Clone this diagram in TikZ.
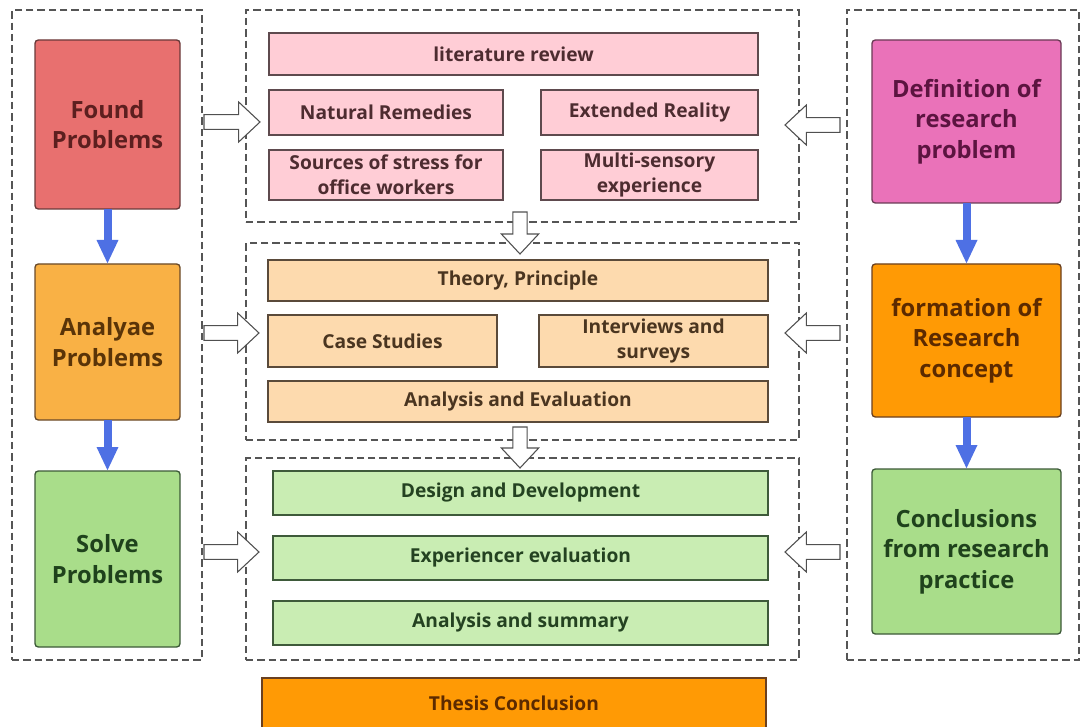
\documentclass[tikz,border=0pt]{standalone}
\usepackage{fontspec}
\setmainfont{Open Sans}
\usetikzlibrary{calc,arrows.meta}

\definecolor{foundfill}{HTML}{E8706F}
\definecolor{foundtext}{HTML}{5C1F1F}
\definecolor{foundline}{HTML}{6A3A3A}
\definecolor{analyfill}{HTML}{F9B145}
\definecolor{analytext}{HTML}{5A3408}
\definecolor{analyline}{HTML}{6A4A2A}
\definecolor{solvefill}{HTML}{A9DD8A}
\definecolor{solvetext}{HTML}{1F421C}
\definecolor{solveline}{HTML}{3C5A38}
\definecolor{deffill}{HTML}{EA72B9}
\definecolor{deftext}{HTML}{5C1440}
\definecolor{defline}{HTML}{6A3A55}
\definecolor{formfill}{HTML}{FF9A05}
\definecolor{formtext}{HTML}{5C2A00}
\definecolor{formline}{HTML}{6A4020}
\definecolor{pinkfill}{HTML}{FFCDD6}
\definecolor{pinktext}{HTML}{4D2C30}
\definecolor{pinkline}{HTML}{5E4A4E}
\definecolor{peachfill}{HTML}{FDDAAE}
\definecolor{peachtext}{HTML}{4A3520}
\definecolor{peachline}{HTML}{5A4A3A}
\definecolor{mintfill}{HTML}{C9EDB3}
\definecolor{minttext}{HTML}{244221}
\definecolor{mintline}{HTML}{3E5A3A}
\definecolor{flowblue}{HTML}{4E70E4}
\definecolor{framegray}{HTML}{555555}
\definecolor{arrowgray}{HTML}{505050}

% a box given by its pixel corners: name, style, x1, y1, x2, y2, text
\newcommand{\pxbox}[7]{%
  \node[#2, minimum width={(#5-#3)*0.75pt}, minimum height={(#6-#4)*0.75pt}]
    (#1) at ({(#3+#5)/2},{(#4+#6)/2}) {#7};}

% hollow block arrow, horizontal: tail, tip
\newcommand{\harrow}[2]{%
  \draw[hollow] let \p1=(#1), \p2=(#2), \n1={(\x2-\x1)/abs(\x2-\x1)} in
    (\x1,{\y1-5.5pt}) -- ({\x2-\n1*16pt},{\y1-5.5pt}) -- ({\x2-\n1*16pt},{\y1-15pt})
    -- (\x2,\y1) -- ({\x2-\n1*16pt},{\y1+15pt}) -- ({\x2-\n1*16pt},{\y1+5.5pt})
    -- (\x1,{\y1+5.5pt}) -- cycle;}

% hollow block arrow, vertical: tail, tip
\newcommand{\varrow}[2]{%
  \draw[hollow] let \p1=(#1), \p2=(#2), \n1={(\y2-\y1)/abs(\y2-\y1)} in
    ({\x1-5.3pt},\y1) -- ({\x1-5.3pt},{\y2-\n1*15pt}) -- ({\x1-14pt},{\y2-\n1*15pt})
    -- (\x2,\y2) -- ({\x1+14pt},{\y2-\n1*15pt}) -- ({\x1+5.3pt},{\y2-\n1*15pt})
    -- ({\x1+5.3pt},\y1) -- cycle;}

\tikzset{
  frame/.style={draw=framegray, line width=0.8pt, dash pattern=on 5.5pt off 3pt,
    inner sep=0pt, outer sep=0pt},
  bigbox/.style={rounded corners=2.5pt, line width=1pt, inner sep=0pt, outer sep=0pt,
    align=center, font=\bfseries\fontsize{17.8}{22.8}\selectfont},
  smallbox/.style={line width=0.9pt, inner sep=0pt, outer sep=0pt,
    align=center, font=\bfseries\fontsize{14.4}{18.6}\selectfont},
  pinkbox/.style={smallbox, draw=pinkline, fill=pinkfill, text=pinktext},
  peachbox/.style={smallbox, draw=peachline, fill=peachfill, text=peachtext},
  mintbox/.style={smallbox, draw=mintline, fill=mintfill, text=minttext},
  hollow/.style={draw=arrowgray, fill=white, line width=0.8pt, line join=miter},
  flow/.style={draw=flowblue, line width=6pt, -{Triangle[width=15pt,length=18pt]}},
}

\begin{document}
\begin{tikzpicture}[x=0.75pt, y=-0.75pt]
\clip (0,0) rectangle (1082,727);
\fill[white] (0,0) rectangle (1082,727);

% dashed frames
\pxbox{lframe}{frame}{12}{10}{202}{660}{}
\pxbox{mframeA}{frame}{246}{10}{799}{222}{}
\pxbox{mframeB}{frame}{246}{243}{799}{440}{}
\pxbox{mframeC}{frame}{246}{458}{799}{660}{}
\pxbox{rframe}{frame}{847}{10}{1079}{660}{}

% left column
\pxbox{found}{bigbox, draw=foundline, fill=foundfill, text=foundtext}{35}{40}{180}{209}{Found\\Problems}
\pxbox{analy}{bigbox, draw=analyline, fill=analyfill, text=analytext}{35}{264}{180}{420}{Analyae\\Problems}
\pxbox{solve}{bigbox, draw=solveline, fill=solvefill, text=solvetext}{35}{471}{180}{647}{Solve\\Problems}

% right column
\pxbox{defin}{bigbox, draw=defline, fill=deffill, text=deftext}{872}{40}{1061}{203}{Definition of\\research\\problem}
\pxbox{forma}{bigbox, draw=formline, fill=formfill, text=formtext}{872}{264}{1061}{417}{formation of\\Research\\concept}
\pxbox{concl}{bigbox, draw=solveline, fill=solvefill, text=solvetext}{872}{469}{1061}{634}{Conclusions\\from research\\practice}

% literature block
\pxbox{litrev}{pinkbox}{269}{33}{758}{75}{literature review}
\pxbox{natrem}{pinkbox}{269}{90}{503}{135}{Natural Remedies}
\pxbox{extrea}{pinkbox}{541}{90}{758}{135}{Extended Reality}
\pxbox{stress}{pinkbox}{269}{150}{503}{200}{Sources of stress for\\office workers}
\pxbox{multis}{pinkbox}{541}{150}{758}{200}{Multi-sensory\\experience}

% analysis block
\pxbox{theory}{peachbox}{268}{260}{768}{301}{Theory, Principle}
\pxbox{cases}{peachbox}{268}{315}{497}{367}{Case Studies}
\pxbox{interv}{peachbox}{539}{315}{768}{367}{Interviews and\\surveys}
\pxbox{aneval}{peachbox}{268}{381}{768}{422}{Analysis and Evaluation}

% practice block
\pxbox{design}{mintbox}{273}{471}{768}{515}{Design and Development}
\pxbox{expev}{mintbox}{273}{536}{768}{580}{Experiencer evaluation}
\pxbox{ansum}{mintbox}{273}{601}{768}{645}{Analysis and summary}

% conclusion bar
\pxbox{thesis}{smallbox, draw=formline, fill=formfill, text=formtext}{262}{678}{766}{733}{}
\node[font=\bfseries\fontsize{14.4}{17}\selectfont, text=formtext] (thesistxt) at (514,703) {Thesis Conclusion};

% blue flow arrows
\draw[flow] (found.south) -- (analy.north);
\draw[flow] (analy.south) -- (solve.north);
\draw[flow] (defin.south) -- (forma.north);
\draw[flow] (forma.south) -- (concl.north);

% hollow arrows into the middle blocks
\coordinate (la1) at (204,122);  \coordinate (lb1) at (260,122);
\coordinate (la2) at (204,333);  \coordinate (lb2) at (259,333);
\coordinate (la3) at (204,552);  \coordinate (lb3) at (259,552);
\coordinate (ra1) at (840,125);  \coordinate (rb1) at (785,125);
\coordinate (ra2) at (840,333);  \coordinate (rb2) at (785,333);
\coordinate (ra3) at (840,552);  \coordinate (rb3) at (785,552);
\coordinate (da1) at (520,212);  \coordinate (db1) at (520,254);
\coordinate (da2) at (520,427);  \coordinate (db2) at (520,468);
\harrow{la1}{lb1}
\harrow{la2}{lb2}
\harrow{la3}{lb3}
\harrow{ra1}{rb1}
\harrow{ra2}{rb2}
\harrow{ra3}{rb3}
\varrow{da1}{db1}
\varrow{da2}{db2}
\end{tikzpicture}
\end{document}
